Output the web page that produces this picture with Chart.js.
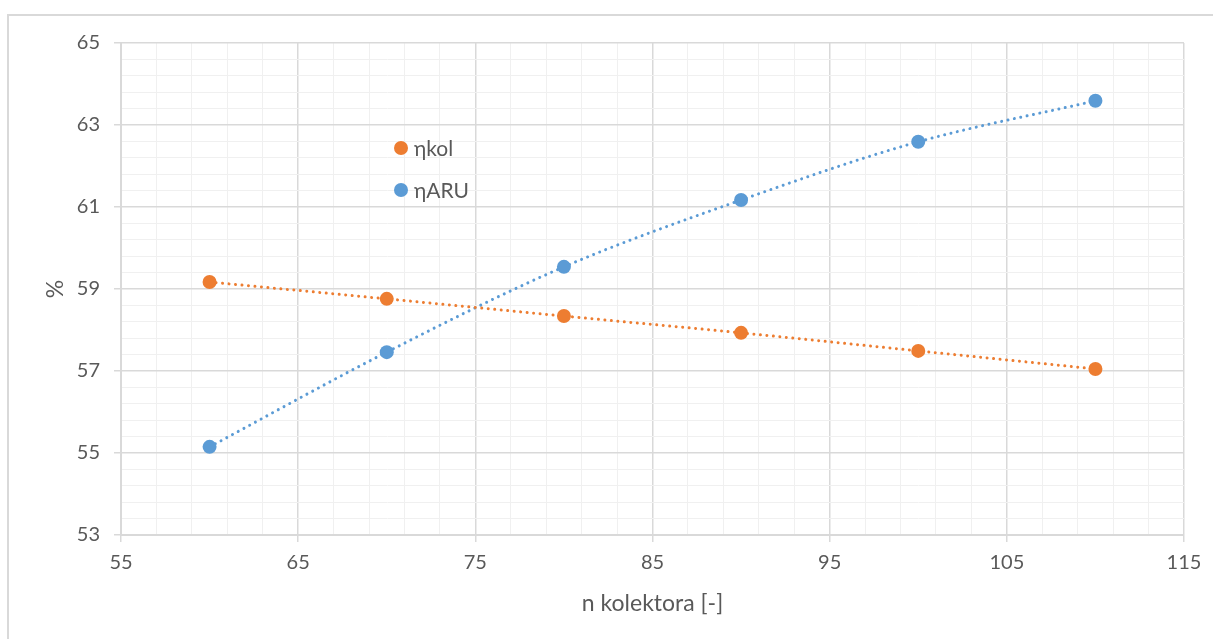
<!DOCTYPE html>
<html>
<head>
<meta charset="utf-8">
<script src="https://cdn.jsdelivr.net/npm/chart.js@4/dist/chart.umd.min.js"></script>
<style>
  html, body { margin: 0; padding: 0; background: #fff; overflow: hidden; }
  #frame { position: absolute; left: 7px; top: 14px; width: 1300px; height: 700px; border: 2px solid #d9d9d9; }
  #wrap { position: absolute; left: 0; top: 0; width: 1213px; height: 639px; }
</style>
</head>
<body>
<div id="frame"></div>
<div id="wrap"><canvas id="chart"></canvas></div>
<script>
// n kolektora
const xValues = [60, 70, 80, 90, 100, 110];
// eta kol [%]
const kolValues = [59.17, 58.76, 58.34, 57.93, 57.49, 57.05];
// eta ARU [%]
const aruValues = [55.15, 57.46, 59.54, 61.17, 62.59, 63.59];

const seriesNames = ['ηkol', 'ηARU'];
const seriesColors = ['#ED7D31', '#5B9BD5'];

const textColor = '#595959';
const fontFamily = 'Lato, "Open Sans", sans-serif';

function toPoints(ys) {
  return xValues.map((x, i) => ({ x: x, y: ys[i] }));
}

function isMajor(value, start, step) {
  const k = (value - start) / step;
  return Math.abs(k - Math.round(k)) < 1e-6;
}

// legend drawn inside the plot, like the original
const innerLegend = {
  id: 'innerLegend',
  afterDatasetsDraw(chart) {
    const ctx = chart.ctx;
    const area = chart.chartArea;
    ctx.save();
    ctx.font = '21px ' + fontFamily;
    ctx.textBaseline = 'middle';
    seriesNames.forEach((name, i) => {
      const cx = area.left + 280;
      const cy = area.top + 105 + i * 42;
      ctx.beginPath();
      ctx.arc(cx, cy, 7, 0, Math.PI * 2);
      ctx.fillStyle = seriesColors[i];
      ctx.fill();
      ctx.fillStyle = textColor;
      ctx.fillText(name, cx + 13, cy + 1);
    });
    ctx.restore();
  }
};

function dataset(label, ys, color) {
  return {
    label: label,
    data: toPoints(ys),
    showLine: true,
    borderColor: color,
    backgroundColor: color,
    borderWidth: 3,
    borderDash: [0.01, 6.5],
    borderCapStyle: 'round',
    cubicInterpolationMode: 'monotone',
    pointRadius: 7,
    pointHoverRadius: 7,
    pointBorderWidth: 0
  };
}

new Chart(document.getElementById('chart'), {
  type: 'scatter',
  data: {
    datasets: [
      dataset(seriesNames[0], kolValues, seriesColors[0]),
      dataset(seriesNames[1], aruValues, seriesColors[1])
    ]
  },
  plugins: [innerLegend],
  options: {
    responsive: true,
    maintainAspectRatio: false,
    animation: false,
    layout: { padding: { left: 0, top: 43, right: 29, bottom: 0 } },
    plugins: {
      legend: { display: false },
      tooltip: { enabled: false }
    },
    scales: {
      x: {
        type: 'linear',
        min: 55,
        max: 115,
        afterFit(scale) { scale.height = 104; },
        border: { color: '#d9d9d9', width: 2 },
        grid: {
          color: ctx => isMajor(ctx.tick.value, 55, 10) ? '#d9d9d9' : '#f0f0f0',
          tickColor: ctx => isMajor(ctx.tick.value, 55, 10) ? '#d9d9d9' : 'rgba(0,0,0,0)',
          tickLength: 7,
          lineWidth: ctx => isMajor(ctx.tick.value, 55, 10) ? 1.5 : 1
        },
        ticks: {
          stepSize: 2,
          autoSkip: false,
          maxRotation: 0,
          padding: 9,
          color: textColor,
          font: { family: fontFamily, size: 20 },
          callback: v => isMajor(v, 55, 10) ? String(Math.round(v)) : ''
        },
        title: {
          display: true,
          text: 'n kolektora [-]',
          color: textColor,
          font: { family: fontFamily, size: 23 },
          padding: { top: 0, bottom: 22 }
        }
      },
      y: {
        type: 'linear',
        min: 53,
        max: 65,
        afterFit(scale) { scale.width = 121; },
        border: { color: '#d9d9d9', width: 2 },
        grid: {
          color: ctx => isMajor(ctx.tick.value, 53, 2) ? '#d9d9d9' : '#f0f0f0',
          tickColor: ctx => isMajor(ctx.tick.value, 53, 2) ? '#d9d9d9' : 'rgba(0,0,0,0)',
          tickLength: 7,
          lineWidth: ctx => isMajor(ctx.tick.value, 53, 2) ? 1.5 : 1
        },
        ticks: {
          stepSize: 0.4,
          autoSkip: false,
          padding: 14,
          color: textColor,
          font: { family: fontFamily, size: 20 },
          callback: v => isMajor(v, 53, 2) ? String(Math.round(v)) : ''
        },
        title: {
          display: true,
          text: '%',
          color: textColor,
          font: { family: fontFamily, size: 23 },
          padding: { top: 42, bottom: 0 }
        }
      }
    }
  }
});
</script>
</body>
</html>
